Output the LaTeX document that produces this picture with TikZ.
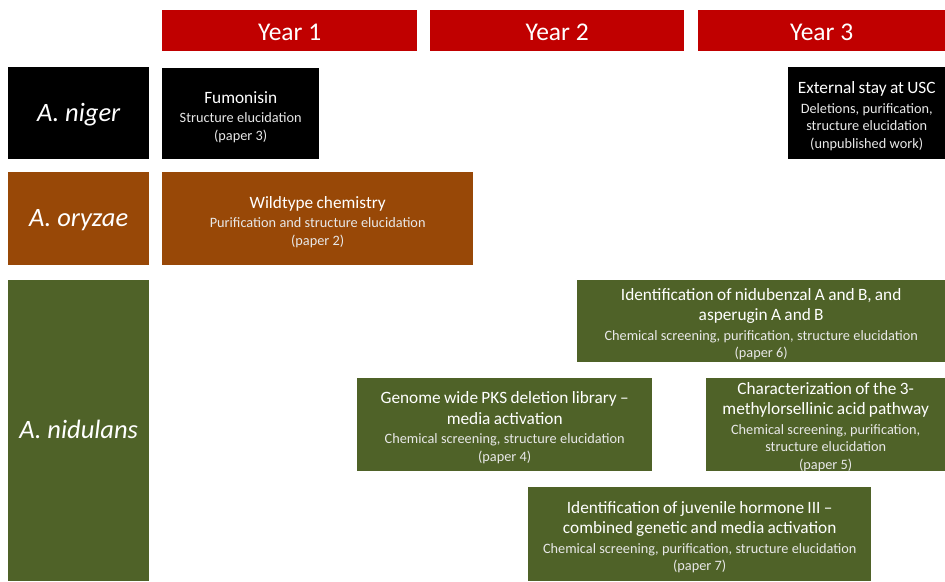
\documentclass[tikz,border=0pt]{standalone}
\usepackage{fontspec}
\setmainfont{Carlito}
\definecolor{yearred}{HTML}{C00000}
\definecolor{brownbox}{HTML}{984807}
\definecolor{greenbox}{HTML}{4F6228}
\definecolor{subcol}{HTML}{E8E8E8}
\newcommand\ttlfont{\fontsize{17.3}{20.5}\selectfont}
\newcommand\subfont{\fontsize{14.3}{17.5}\selectfont\color{subcol}}
\newcommand\gap{\par\vspace{2pt}}
\newcommand\tailpad{\par\vspace{-6pt}}
\tikzset{
  box/.style={rectangle, inner sep=0pt, text=white, align=center, anchor=north west},
  yearbox/.style={box, fill=yearred, minimum height=41pt, text height=20.4pt, text depth=0pt, font=\fontsize{25.5}{30}\selectfont},
  species/.style={box, minimum width=141pt, text height=21pt, text depth=5.3pt, font=\fontsize{26.5}{30}\selectfont\itshape},
}
\begin{document}
\begin{tikzpicture}[x=1pt,y=-1pt]
\useasboundingbox (0,0) rectangle (945,581);
% years
\node[yearbox, minimum width=255pt] (y1) at (162,10) {Year 1};
\node[yearbox, minimum width=254pt] (y2) at (430,10) {Year 2};
\node[yearbox, minimum width=247pt] (y3) at (698,10) {Year 3};
% species
\node[species, fill=black, minimum height=92pt] (niger) at (8,67) {A. niger};
\node[species, fill=brownbox, minimum height=93pt] (oryzae) at (8,172) {A. oryzae};
\node[species, fill=greenbox, minimum height=301pt] (nidulans) at (8,280) {A. nidulans};
% projects
\node[box, fill=black, minimum width=157pt, minimum height=91pt, text width=157pt] (fum) at (162,68)
  {\ttlfont Fumonisin\gap\subfont Structure elucidation\\(paper 3)\tailpad};
\node[box, fill=black, minimum width=157pt, minimum height=92pt, text width=157pt] (usc) at (788,67)
  {\ttlfont External stay at USC\gap\subfont Deletions, purification,\\structure elucidation\\(unpublished work)\tailpad};
\node[box, fill=brownbox, minimum width=311pt, minimum height=93pt, text width=311pt] (wild) at (162,172)
  {\ttlfont Wildtype chemistry\gap\subfont Purification and structure elucidation\\(paper 2)\tailpad};
\node[box, fill=greenbox, minimum width=368pt, minimum height=82pt, text width=368pt] (nidub) at (577,280)
  {\ttlfont Identification of nidubenzal A and B, and\\asperugin A and B\gap\subfont Chemical screening, purification, structure elucidation\\(paper 6)\tailpad};
\node[box, fill=greenbox, minimum width=295pt, minimum height=93pt, text width=295pt] (genome) at (357,378)
  {\ttlfont Genome wide PKS deletion library --\\media activation\gap\subfont Chemical screening, structure elucidation\\(paper 4)\tailpad};
\node[box, fill=greenbox, minimum width=239pt, minimum height=93pt, text width=239pt] (char) at (706,378)
  {\ttlfont Characterization of the 3-\\methylorsellinic acid pathway\gap\subfont Chemical screening, purification,\\structure elucidation\\(paper 5)\par\vspace{-4pt}};
\node[box, fill=greenbox, minimum width=343pt, minimum height=94pt, text width=343pt] (juv) at (528,487)
  {\ttlfont Identification of juvenile hormone III --\\combined genetic and media activation\gap\subfont Chemical screening, purification, structure elucidation\\(paper 7)\tailpad};
\end{tikzpicture}
\end{document}
